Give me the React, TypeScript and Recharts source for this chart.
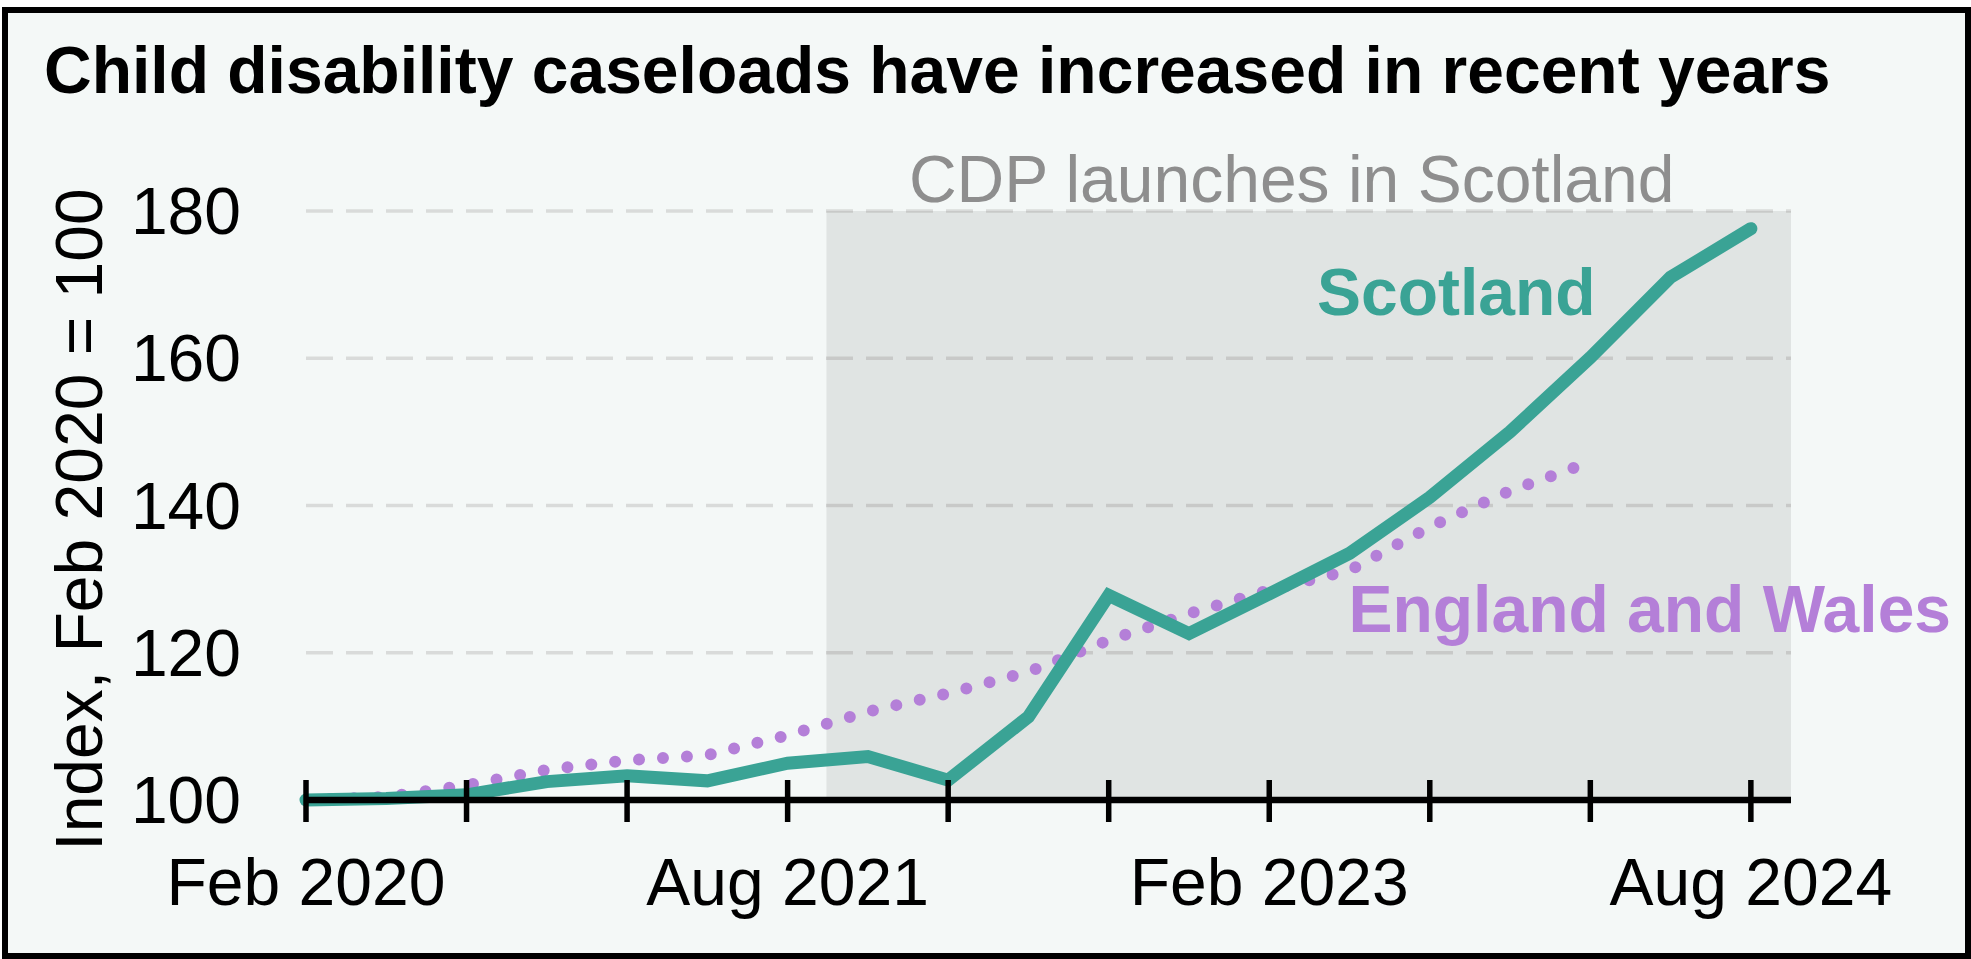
import { LineChart, Line, XAxis, YAxis, CartesianGrid, ReferenceArea, ReferenceDot } from 'recharts';

// months since Feb 2020, quarterly
const months = [0, 3, 6, 9, 12, 15, 18, 21, 24, 27, 30, 33, 36, 39, 42, 45, 48, 51, 54];
const scotland = [100, 100.2, 100.7, 102.5, 103.3, 102.6, 105.0, 105.9, 102.7, 111.3, 127.8, 122.6, 128.0, 133.5, 141.1, 150.0, 160.1, 171.0, 177.6];
const englandWales = [100, 100.4, 102.0, 104.1, 105.4, 106.1, 108.8, 112.0, 114.5, 117.4, 121.7, 125.3, 128.5, 131.2, 137.1, 142.0, 145.9];

const tickMonths = [0, 6, 12, 18, 24, 30, 36, 42, 48, 54];
const tickLabels = ['Feb 2020', '', '', 'Aug 2021', '', '', 'Feb 2023', '', '', 'Aug 2024'];
const yTicks = [100, 120, 140, 160, 180];
const cdpLaunch = 19.45;

const data = months.map((m, i) => ({
  month: m,
  scotland: scotland[i],
  englandWales: i < englandWales.length ? englandWales[i] : null,
}));

const FONT = "'Liberation Sans', Arial, Helvetica, sans-serif";
const TEAL = '#3aa395';
const PURPLE = '#b47fd8';

const XTick = ({ x, y, payload }: any) => {
  const label = tickLabels[tickMonths.indexOf(payload.value)];
  return (
    <g>
      <line x1={x} x2={x} y1={y - 20} y2={y + 22} stroke="#000" strokeWidth={5.5} />
      {label ? (
        <text x={x} y={y + 105} textAnchor="middle" fontSize={66} fill="#000" fontFamily={FONT}>
          {label}
        </text>
      ) : null}
    </g>
  );
};

const YTick = ({ x, y, payload }: any) => (
  <text x={x - 65} y={y + 23} textAnchor="end" fontSize={66} fill="#000" fontFamily={FONT}>
    {payload.value}
  </text>
);

const YLabel = ({ viewBox }: any) => {
  const cx = 102;
  const cy = viewBox.y + viewBox.height / 2 + 14;
  return (
    <text x={cx} y={cy} transform={`rotate(-90, ${cx}, ${cy})`} textAnchor="middle" fontSize={66} fill="#000" fontFamily={FONT}>
      Index, Feb 2020 = 100
    </text>
  );
};

const CdpLabel = ({ viewBox }: any) => (
  <text x={viewBox.x + viewBox.width / 2 - 17} y={viewBox.y - 9.5} textAnchor="middle" fontSize={66} fill="#8e8e8e" fontFamily={FONT}>
    CDP launches in Scotland
  </text>
);

const SeriesLabel = ({ viewBox, text, color, anchor }: any) => (
  <text x={viewBox.x} y={viewBox.y} textAnchor={anchor} fontSize={66} fontWeight="bold" fill={color} fontFamily={FONT}>
    {text}
  </text>
);

export default function App() {
  return (
    <div style={{ position: 'absolute', left: 0, top: 0, width: 1971, height: 959, background: '#fff', fontFamily: FONT }}>
      <div
        style={{
          position: 'absolute',
          left: 2,
          top: 7,
          width: 1969,
          height: 952,
          border: '6px solid #000',
          boxSizing: 'border-box',
          background: '#f4f8f7',
        }}
      />
      <div
        style={{
          position: 'absolute',
          left: 44,
          top: 37,
          fontSize: 66,
          lineHeight: '66px',
          fontWeight: 'bold',
          color: '#000',
          whiteSpace: 'nowrap',
        }}
      >
        Child disability caseloads have increased in recent years
      </div>
      <div style={{ position: 'absolute', left: 0, top: 0 }}>
        <LineChart width={1971} height={959} data={data} margin={{ top: 211, right: 180, bottom: 0, left: 0 }}>
          <CartesianGrid vertical={false} stroke="#d9dbda" strokeWidth={3.5} strokeDasharray="27 13" />
          <ReferenceArea
            x1={cdpLaunch}
            x2={55.5}
            y1={100}
            y2={180}
            fill="#000"
            fillOpacity={0.078}
            stroke="none"
            ifOverflow="visible"
            label={(p: any) => <CdpLabel {...p} />}
          />
          <XAxis
            dataKey="month"
            type="number"
            domain={[0, 55.5]}
            ticks={tickMonths}
            interval={0}
            height={159}
            tickSize={0}
            tickMargin={0}
            tickLine={false}
            axisLine={{ stroke: '#000', strokeWidth: 6.5 }}
            tick={(p: any) => <XTick {...p} />}
          />
          <YAxis
            type="number"
            domain={[100, 180]}
            ticks={yTicks}
            interval={0}
            width={306}
            tickSize={0}
            tickMargin={0}
            axisLine={false}
            tickLine={false}
            tick={(p: any) => <YTick {...p} />}
            label={(p: any) => <YLabel {...p} />}
          />
          <Line
            type="linear"
            dataKey="englandWales"
            stroke={PURPLE}
            strokeWidth={12}
            strokeDasharray="0 24"
            strokeLinecap="round"
            dot={false}
            activeDot={false}
            isAnimationActive={false}
          />
          <Line
            type="linear"
            dataKey="scotland"
            stroke={TEAL}
            strokeWidth={13}
            strokeLinecap="round"
            dot={false}
            activeDot={false}
            isAnimationActive={false}
          />
          <ReferenceDot
            x={48.2}
            y={165.9}
            r={0}
            fill="none"
            stroke="none"
            label={(p: any) => <SeriesLabel {...p} text="Scotland" color={TEAL} anchor="end" />}
          />
          <ReferenceDot
            x={38.96}
            y={122.8}
            r={0}
            fill="none"
            stroke="none"
            label={(p: any) => <SeriesLabel {...p} text="England and Wales" color={PURPLE} anchor="start" />}
          />
        </LineChart>
      </div>
    </div>
  );
}
